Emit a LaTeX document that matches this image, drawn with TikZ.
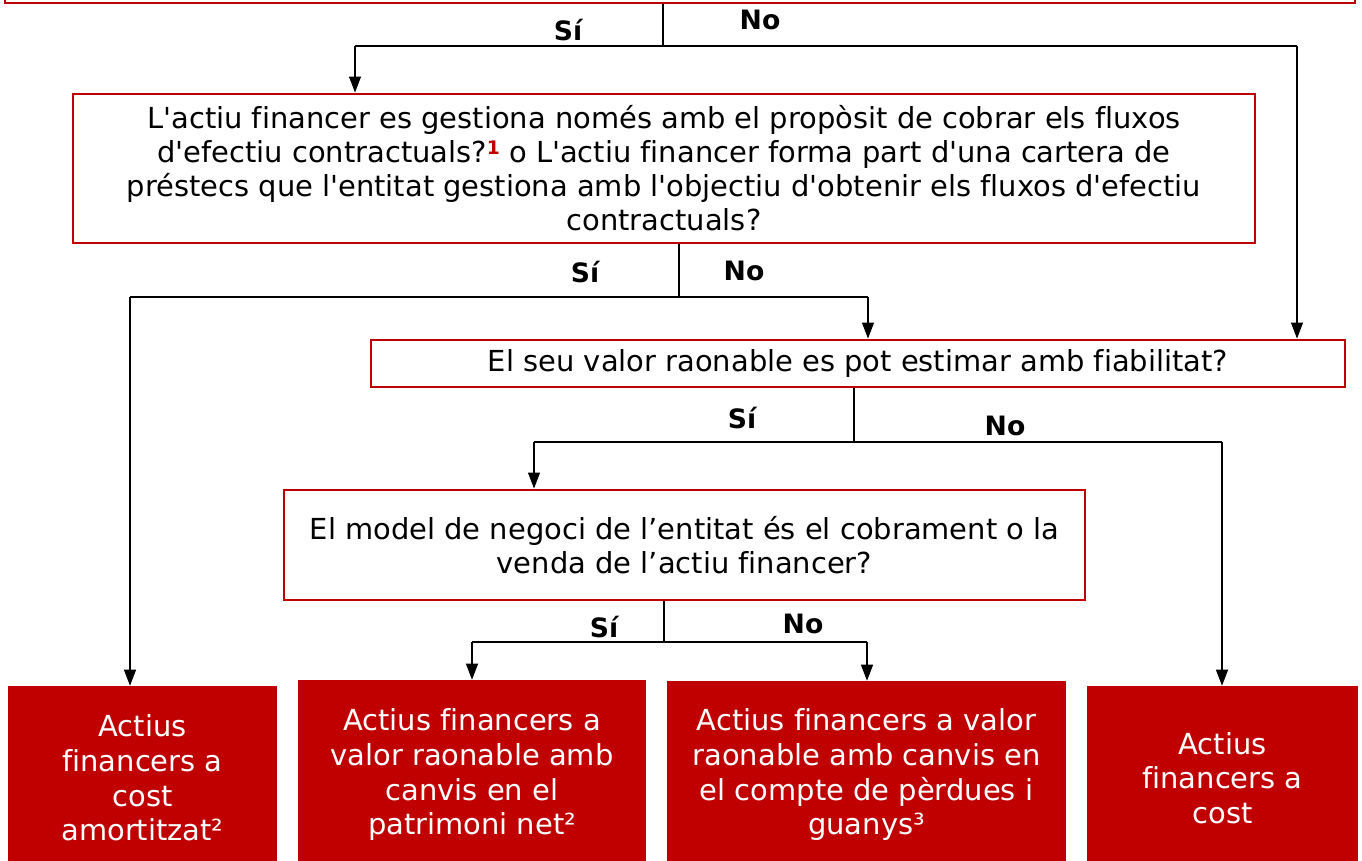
\documentclass[tikz,border=0pt]{standalone}
\usepackage{fontspec}
\setmainfont{DejaVu Sans}[Ligatures={TeXOff,NoCommon}]
\usetikzlibrary{arrows.meta}
\definecolor{dred}{RGB}{192,0,0}
\newcommand{\fnmark}[1]{\raisebox{0.55ex}{\fontsize{14}{14}\selectfont\bfseries #1}}
\tikzset{
  qbox/.style={draw=dred, line width=2.2pt, fill=white, inner sep=0pt, align=center, font=\fontsize{21.7}{25.5}\selectfont},
  rbox/.style={fill=dred, inner sep=0pt, align=center, text=white, font=\fontsize{21.7}{26}\selectfont},
  conn/.style={draw=black, line width=0.8pt},
  arr/.style={conn, -{Triangle[length=12pt,width=9pt]}},
  lab/.style={font=\bfseries\fontsize{20}{22}\selectfont, inner sep=0pt}
}
\begin{document}
\begin{tikzpicture}[x=0.75pt,y=-0.75pt]
\useasboundingbox (0,0) rectangle (1362,860);
\begin{scope}
\clip (0,0) rectangle (1362,860);
\node[qbox, minimum width=1012.5pt, minimum height=34.5pt] (top) at (680,-20) {};
\node[qbox, minimum width=886.5pt, minimum height=111.75pt] (q1) at (664,168.5) {L'actiu financer es gestiona només amb el propòsit de cobrar els fluxos\\ d'efectiu contractuals?{\color{dred}\fnmark{1}} o L'actiu financer forma part d'una cartera de\\ préstecs que l'entitat gestiona amb l'objectiu d'obtenir els fluxos d'efectiu\\ contractuals?};
\node[qbox, minimum width=730.5pt, minimum height=35.25pt] (q2) at (858,363.5) {El seu valor raonable es pot estimar amb fiabilitat?};
\node[qbox, minimum width=600.75pt, minimum height=82.5pt] (q3) at (684.5,545) {El model de negoci de l’entitat és el cobrament o la\\ venda de l’actiu financer?};
\node[rbox, minimum width=201.75pt, minimum height=138pt] (fa) at (142.5,778) {Actius\\ financers a\\ cost\\ amortitzat²};
\node[rbox, minimum width=261pt, minimum height=142.5pt] (fb) at (472,775) {Actius financers a\\ valor raonable amb\\ canvis en el\\ patrimoni net²};
\node[rbox, minimum width=299.25pt, minimum height=141pt] (fc) at (866.5,775) {Actius financers a valor\\ raonable amb canvis en\\ el compte de pèrdues i\\ guanys³};
\node[rbox, minimum width=203.25pt, minimum height=138pt] (fd) at (1222.5,778) {Actius\\ financers a\\ cost};
\end{scope}
% junctions
\coordinate (j1) at (663,46); \coordinate (j1L) at (355,46); \coordinate (j1R) at (1297,46);
\coordinate (j2) at (679,297); \coordinate (j2L) at (130,297); \coordinate (j2R) at (868,297);
\coordinate (j3) at (854,442); \coordinate (j3L) at (534,442); \coordinate (j3R) at (1222,442);
\coordinate (j4) at (664,642); \coordinate (j4L) at (472,642); \coordinate (j4R) at (867,642);
\draw[conn] (j1 |- top.south) -- (j1);
\draw[conn] (j1L) -- (j1R);
\draw[arr] (j1L) -- (j1L |- q1.north);
\draw[arr] (j1R) -- (j1R |- q2.north);
\draw[conn] (j2 |- q1.south) -- (j2);
\draw[conn] (j2L) -- (j2R);
\draw[arr] (j2L) -- (j2L |- fa.north);
\draw[arr] (j2R) -- (j2R |- q2.north);
\draw[conn] (j3 |- q2.south) -- (j3);
\draw[conn] (j3L) -- (j3R);
\draw[arr] (j3L) -- (j3L |- q3.north);
\draw[arr] (j3R) -- (j3R |- fd.north);
\draw[conn] (j4 |- q3.south) -- (j4);
\draw[conn] (j4L) -- (j4R);
\draw[arr] (j4L) -- (j4L |- fb.north);
\draw[arr] (j4R) -- (j4R |- fc.north);
% labels
\node[lab] (s1) at (568,30) {Sí};
\node[lab] (n1) at (760,20) {No};
\node[lab] (s2) at (585,272) {Sí};
\node[lab] (n2) at (744,271) {No};
\node[lab] (s3) at (742,418) {Sí};
\node[lab] (n3) at (1005,426) {No};
\node[lab] (s4) at (604,627) {Sí};
\node[lab] (n4) at (803,624) {No};
\end{tikzpicture}
\end{document}
